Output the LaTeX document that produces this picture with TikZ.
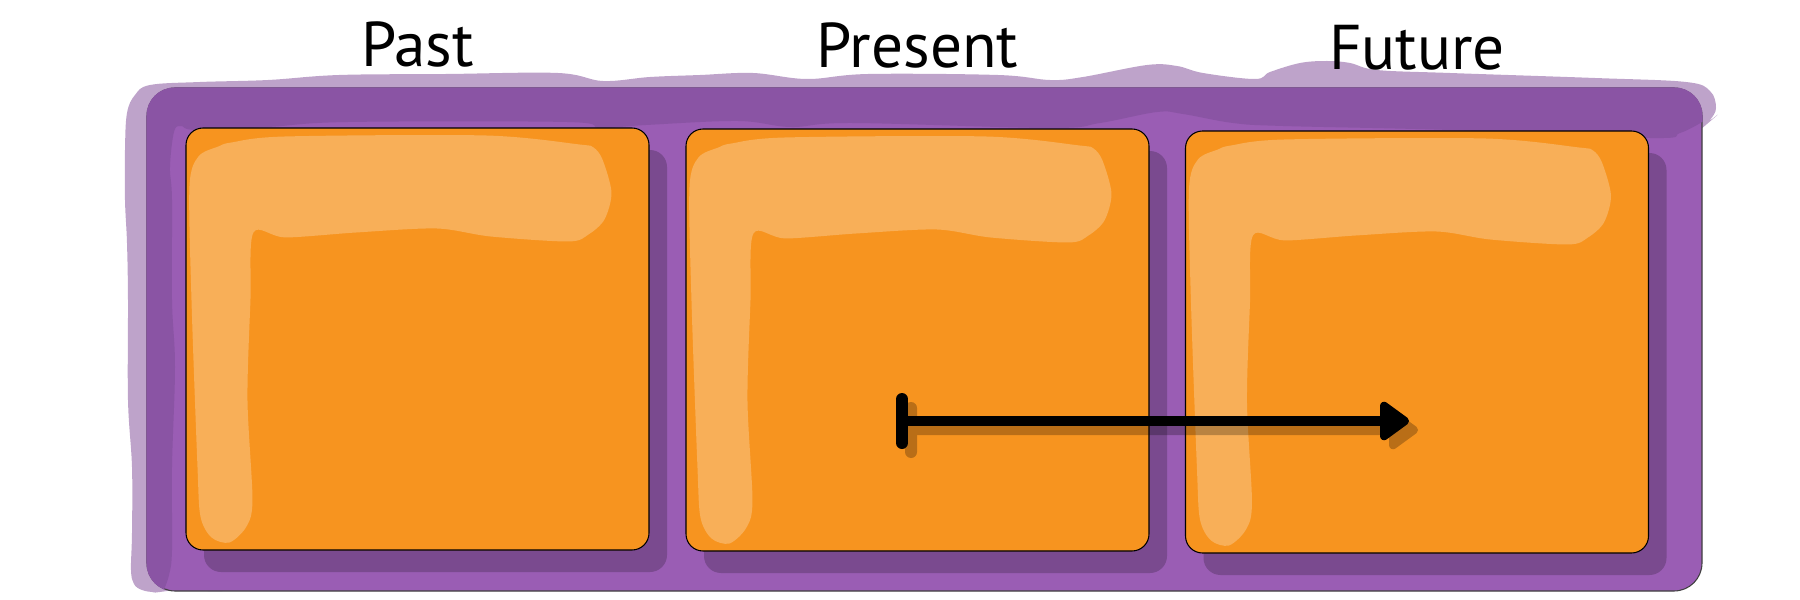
\documentclass[tikz,border=0pt]{standalone}
\usepackage{fontspec}
\setmainfont{PT Sans}
\usetikzlibrary{arrows.meta,positioning,shadows}
\definecolor{haze}{HTML}{BEA3CA}
\definecolor{trayfill}{HTML}{9A5DB4}
\definecolor{trayband}{HTML}{8A54A4}
\definecolor{slotshade}{HTML}{7A4A8F}
\definecolor{slotfill}{HTML}{F7941F}
\definecolor{slotglare}{HTML}{F8AF58}
\tikzset{
  tray/.style={rectangle, rounded corners=2.8mm, minimum width=155.5mm, minimum height=50.3mm,
    fill=trayfill, draw=black!75, line width=0.3pt},
  slot/.style={rectangle, rounded corners=1.7mm, minimum width=46.3mm, minimum height=42.2mm,
    fill=slotfill, draw=black, line width=0.3pt,
    drop shadow={shadow xshift=1.8mm, shadow yshift=-2.2mm, fill=slotshade, opacity=1}},
  heading/.style={anchor=base, font=\fontsize{18}{20}\selectfont},
  timeline/.style={line width=1mm,
    {Bar[width=4.4mm, line width=1.2mm, round]}-{Triangle[round, length=3.2mm, width=4.4mm, line width=1mm]}}
}
\begin{document}
\begin{tikzpicture}[x=0.1mm,y=-0.1mm]
\useasboundingbox (0,0) rectangle (1800,600);
\fill[haze] plot[smooth cycle, tension=0.6] coordinates {(125,150) (127,113) (135,95) (150,85) (200,82) (268,80) (339,75) (446,74) (558,73) (603,81) (650,77) (700,75) (753,73) (807,79) (868,74) (998,75) (1050,80) (1083,77) (1147,65) (1177,66) (1203,73) (1255,79) (1270,72) (1300,63) (1327,61) (1350,63) (1377,70) (1450,73) (1595,78) (1686,82) (1710,91) (1716,108) (1710,120) (1700,130) (1500,300) (400,560) (175,590) (155,592) (142,590) (134,584) (131,570) (132,533) (132,467) (128,400) (128,300) (127,243) (125,200)};
\node[tray] (tray) at (924.5,339.5) {};
\begin{scope}
\clip[rounded corners=2.8mm] (tray.south west) rectangle (tray.north east);
\fill[trayband] (1730,70) -- (1730,121) -- plot[smooth, tension=0.6] coordinates {(1702,122) (1680,133) (1650,138) (1450,130) (1283,126) (1233,123) (1183,114) (1157,112) (1100,123) (1050,128) (852,123) (791,127) (738,121) (646,125) (600,128) (567,122) (348,122) (268,127) (196,130) (181,126) (174,132) (170,167) (172,200) (172,300) (175,367) (172,467) (172,550) (169,575) (163,592)} -- (140,610) -- (140,70) -- cycle;
\end{scope}
\node[slot] (past) at (417.5,339) {};
\node[slot] (present) at (917.5,340) {};
\node[slot] (future) at (1417,342) {};
\foreach \s in {past,present,future}
  \fill[slotglare, shift={(\s.north west)}] plot[smooth cycle, tension=0.5] coordinates {(4,59) (13,29) (33,19) (46,15) (100,9) (300,8) (394,17) (408,20) (417,32) (426,65) (419,92) (403,107) (383,114) (305,109) (251,101) (171,105) (100,110) (68,105) (65,172) (62,272) (67,372) (61,399) (44,415) (26,410) (15,389) (12,339) (6,172)};
\node[heading] (pastlabel) at ([yshift=6.1mm]past.north) {Past};
\node[heading] (presentlabel) at ([yshift=6.1mm]present.north) {Present};
\node[heading] (futurelabel) at ([yshift=6.1mm]future.north) {Future};
\coordinate (now) at (896,421);
\coordinate (later) at (1409,421);
\begin{scope}[transparency group, opacity=0.25]
\draw[timeline] ([xshift=0.9mm,yshift=-0.9mm]now) -- ([xshift=0.9mm,yshift=-0.9mm]later);
\end{scope}
\draw[timeline] (now) -- (later);
\end{tikzpicture}
\end{document}
